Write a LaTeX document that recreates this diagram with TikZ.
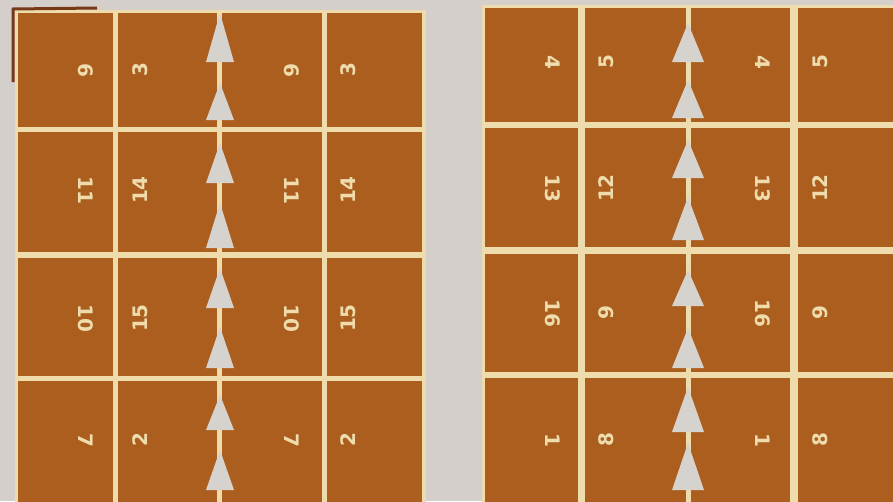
\documentclass[tikz,border=0pt]{standalone}
\usepackage{fontspec}
\setmainfont{DejaVu Sans}
\definecolor{paper}{RGB}{212,207,203}
\definecolor{sheet}{RGB}{172,94,30}
\definecolor{cream}{RGB}{238,220,172}
\definecolor{arrowgray}{RGB}{214,210,206}
\definecolor{markbrown}{RGB}{120,56,22}
\tikzset{
  cell/.style={fill=sheet, draw=none, inner sep=0pt, outer sep=0pt},
  num/.style={text=cream, font=\fontsize{20}{24}\selectfont\bfseries, inner sep=0pt},
  numcw/.style={num, rotate=-90},
  numccw/.style={num, rotate=90},
  foldline/.style={draw=cream, line width=2pt},
  foldarrow/.style={fill=arrowgray},
}
\begin{document}
\begin{tikzpicture}[x=1pt,y=-1pt]
\fill[paper] (0,0) rectangle (893,501);
\useasboundingbox (0,0) rectangle (893,501);
% sheet frames
\fill[cream] (15,10) rectangle (426,510);
\fill[cream] (482,5) rectangle (900,510);
% left sheet cells
\foreach \cx/\w/\cn in {65.5/95/1,167.5/99/2,272/100/3,374.5/95/4}{
  \foreach \cy/\h/\rn in {70/114/1,192/120/2,317/118/3,445.5/129/4}{
    \node[cell, minimum width=\w pt, minimum height=\h pt] (L\rn\cn) at (\cx,\cy) {};
  }
}
% right sheet cells
\foreach \cx/\w/\cn in {531.5/93/1,635.5/101/2,740.5/99/3,851.5/107/4}{
  \foreach \cy/\h/\rn in {65/114/1,187.5/119/2,313/118/3,444/132/4}{
    \node[cell, minimum width=\w pt, minimum height=\h pt] (R\rn\cn) at (\cx,\cy) {};
  }
}
% fold lines
\coordinate (LfoldTop) at (220,10);
\coordinate (LfoldBot) at (220,510);
\coordinate (RfoldTop) at (688,5);
\coordinate (RfoldBot) at (688,510);
\draw[foldline] (LfoldTop) -- (LfoldBot);
\draw[foldline] (RfoldTop) -- (RfoldBot);
% fold arrows (triangles)
\foreach \t/\b in {13/62,83/120,143/183,203/248,268/308,327/368,395/430,450/490}{
  \fill[foldarrow] (220,\t) -- (206,\b) -- (234,\b) -- cycle;
}
\foreach \t/\b in {23/62,80/118,140/178,197/240,270/306,328/368,387/432,443/490}{
  \fill[foldarrow] (688,\t) -- (672,\b) -- (704,\b) -- cycle;
}
% numbers, left sheet
\foreach \y/\a/\bb/\rn in {70/6/3/1,190/11/14/2,318/10/15/3,440/7/2/4}{
  \node[numcw]  (nL\rn1) at (86,\y)  {\a};
  \node[numccw] (nL\rn2) at (140,\y) {\bb};
  \node[numcw]  (nL\rn3) at (292,\y) {\a};
  \node[numccw] (nL\rn4) at (348,\y) {\bb};
}
% numbers, right sheet
\foreach \y/\a/\bb/\rn in {62/4/5/1,188/13/12/2,313/16/9/3,440/1/8/4}{
  \node[numcw]  (nR\rn1) at (553,\y) {\a};
  \node[numccw] (nR\rn2) at (606,\y) {\bb};
  \node[numcw]  (nR\rn3) at (763,\y) {\a};
  \node[numccw] (nR\rn4) at (820,\y) {\bb};
}
% corner mark
\coordinate (cmA) at (13,82);
\coordinate (cmB) at (13,9);
\coordinate (cmC) at (97,8);
\draw[markbrown, line width=3pt] (cmA) -- (cmB) -- (cmC);
\end{tikzpicture}
\end{document}
